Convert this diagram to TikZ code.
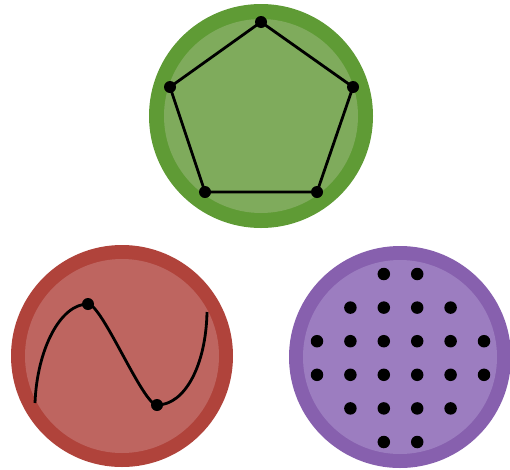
\documentclass[tikz,border=0pt]{standalone}
\definecolor{greenout}{RGB}{95,155,53}
\definecolor{greenin}{RGB}{127,171,92}
\definecolor{redout}{RGB}{176,67,59}
\definecolor{redin}{RGB}{190,101,96}
\definecolor{purpleout}{RGB}{135,96,174}
\definecolor{purplein}{RGB}{156,125,192}
\begin{document}
\begin{tikzpicture}[x=1pt,y=-1pt,
    dot/.style={circle,fill=black,inner sep=0pt,minimum size=12pt},
    bigdot/.style={circle,fill=black,inner sep=0pt,minimum size=12.5pt},
    edge/.style={black,line width=2.8pt}]
    \useasboundingbox (0,0) rectangle (510,469);

    % Kreis oben - Fuenfeck
    \fill[greenout] (261,116) circle (112);
    \fill[greenin] (261,116) circle (97);
    \node[dot] (p1) at (261,22) {};
    \node[dot] (p2) at (353,87) {};
    \node[dot] (p3) at (317,192) {};
    \node[dot] (p4) at (205,192) {};
    \node[dot] (p5) at (170,87) {};
    \draw[edge] (p1.center) -- (p2.center) -- (p3.center) -- (p4.center) -- (p5.center) -- cycle;

    % Kreis unten links - Kurve
    \fill[redout] (122,356) circle (111);
    \fill[redin] (122,356) circle (97);
    \coordinate (c0) at (35,403);
    \node[dot] (cmax) at (88,304) {};
    \node[dot] (cmin) at (157,405) {};
    \coordinate (c3) at (207,312);
    \draw[edge] (c0) .. controls (37,350) and (60,304) .. (cmax.center)
        .. controls (102,304) and (143,405) .. (cmin.center)
        .. controls (185,405) and (206,365) .. (c3);

    % Kreis unten rechts - Punktgitter
    \fill[purpleout] (400,357) circle (111);
    \fill[purplein] (400,357) circle (97);
    \foreach \j/\cols in {0/{2,3}, 1/{1,2,3,4}, 2/{0,1,2,3,4,5}, 3/{0,1,2,3,4,5}, 4/{1,2,3,4}, 5/{2,3}} {
      \foreach \i in \cols {
        \node[bigdot] (d\j\i) at (317+33.4*\i, 274+33.6*\j) {};
      }
    }

  \end{tikzpicture}
\end{document}
